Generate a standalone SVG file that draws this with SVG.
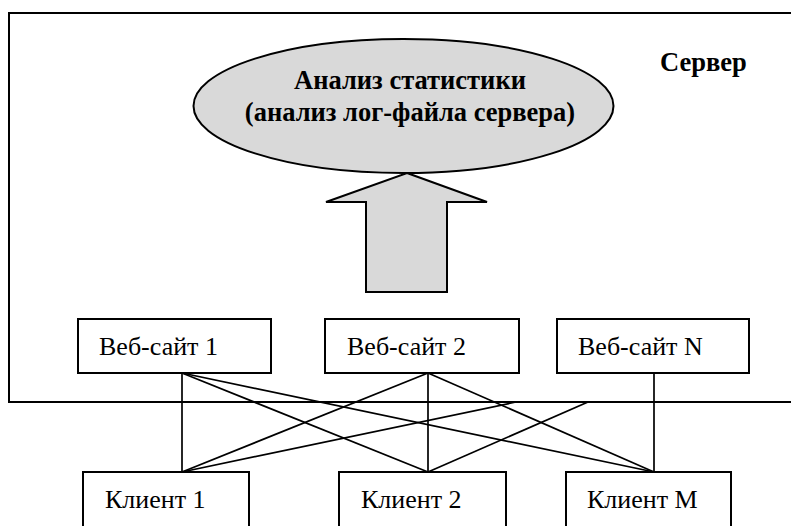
<svg xmlns="http://www.w3.org/2000/svg" width="791" height="526" viewBox="0 0 791 526">
<style>
.box{fill:#fff;stroke:#000;stroke-width:2}
.shape{fill:#d9d9d9;stroke:#000;stroke-width:2}
.t{font-family:'Liberation Serif','Tinos','DejaVu Serif',serif;font-size:26px;fill:#000}
.b{font-weight:bold;font-size:26.5px}
#connectors line{stroke:#000;stroke-width:1.7}
</style>
<rect width="791" height="526" fill="#fff"/>
<g id="server">
<rect x="9" y="13" width="800" height="389" fill="none" stroke="#000" stroke-width="2"/>
<text class="t b" x="660" y="71">Сервер</text>
</g>
<g id="analysis">
<ellipse class="shape" cx="403.5" cy="106" rx="210" ry="67"/>
<text class="t b" x="410" y="89" text-anchor="middle">Анализ статистики</text>
<text class="t b" x="410" y="121" text-anchor="middle">(анализ лог-файла сервера)</text>
</g>
<g id="arrow">
<polygon class="shape" points="407,173 487,202 447,202 447,292 366,292 366,202 326,202"/>
</g>
<g id="connectors">
<line x1="182" y1="373" x2="182" y2="472"/>
<line x1="182" y1="373" x2="428" y2="472"/>
<line x1="182" y1="373" x2="654" y2="472"/>
<line x1="428" y1="373" x2="182" y2="472"/>
<line x1="428" y1="373" x2="428" y2="472"/>
<line x1="428" y1="373" x2="654" y2="472"/>
<line x1="654" y1="373" x2="654" y2="472"/>
<line x1="182" y1="472" x2="516" y2="402"/>
<line x1="428" y1="472" x2="588" y2="402"/>
</g>
<g id="web1">
<rect class="box" x="78" y="319" width="193" height="54"/>
<text class="t" x="99" y="355">Веб-сайт 1</text>
</g>
<g id="web2">
<rect class="box" x="325" y="319" width="194" height="54"/>
<text class="t" x="347" y="355">Веб-сайт 2</text>
</g>
<g id="webN">
<rect class="box" x="557" y="319" width="192" height="54"/>
<text class="t" x="578" y="355">Веб-сайт N</text>
</g>
<g id="client1">
<rect class="box" x="83" y="472" width="166" height="70"/>
<text class="t" x="105" y="508">Клиент 1</text>
</g>
<g id="client2">
<rect class="box" x="339" y="472" width="167" height="70"/>
<text class="t" x="361" y="508">Клиент 2</text>
</g>
<g id="clientM">
<rect class="box" x="566" y="472" width="165" height="70"/>
<text class="t" x="587" y="508">Клиент M</text>
</g>
</svg>
